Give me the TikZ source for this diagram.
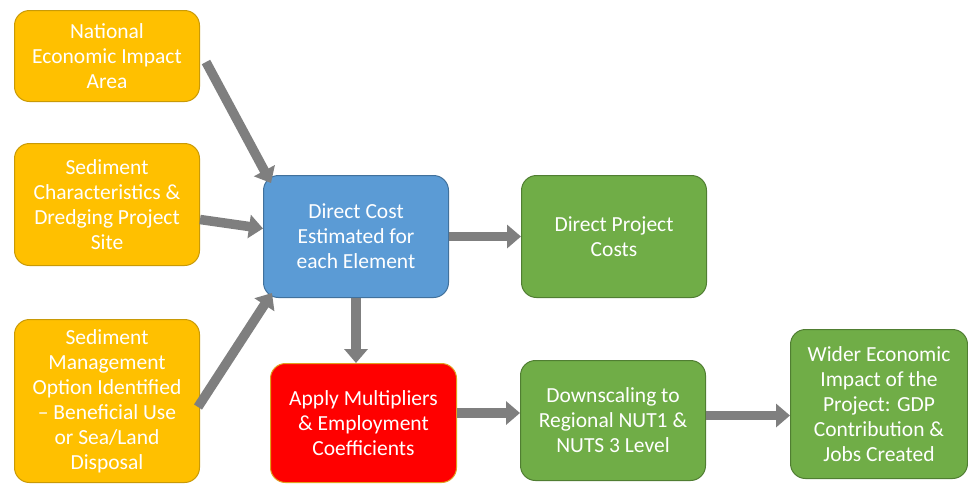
\documentclass[tikz,border=0pt]{standalone}
\usepackage{fontspec}
\setmainfont{Carlito}
\usetikzlibrary{arrows.meta,calc}
\definecolor{orangefill}{HTML}{FFC000}
\definecolor{orangedraw}{HTML}{C99A06}
\definecolor{bluefill}{HTML}{5B9BD5}
\definecolor{bluedraw}{HTML}{41719C}
\definecolor{greenfill}{HTML}{70AD47}
\definecolor{greendraw}{HTML}{507E32}
\definecolor{redfill}{HTML}{FF0000}
\definecolor{reddraw}{HTML}{E0A020}
\definecolor{arrowgray}{HTML}{7F7F7F}
\begin{document}
\begin{tikzpicture}[x=1pt,y=-1pt,
  box/.style={draw,line width=1pt,rounded corners=15pt,anchor=north west,
    text=white,align=center,inner sep=2pt,
    font=\fontsize{21.5}{25}\selectfont},
  obox/.style={box,fill=orangefill,draw=orangedraw},
  bbox/.style={box,fill=bluefill,draw=bluedraw},
  gbox/.style={box,fill=greenfill,draw=greendraw},
  rbox/.style={box,fill=redfill,draw=reddraw},
  arr/.style={draw=arrowgray,line width=9.5pt,
    -{Triangle[length=14pt,width=23pt]},color=arrowgray}]
\useasboundingbox (0,0) rectangle (968,483);
\node[obox,minimum width=185pt,minimum height=91pt] (A) at (14,10)
  {National\\Economic Impact\\Area};
\node[obox,minimum width=185pt,minimum height=122pt] (B) at (14,143)
  {Sediment\\Characteristics \&\\Dredging Project\\Site};
\node[obox,minimum width=185pt,minimum height=163pt] (C) at (14,319)
  {Sediment\\Management\\Option Identified\\– Beneficial Use\\or Sea/Land\\Disposal};
\node[bbox,minimum width=185pt,minimum height=122pt] (D) at (263,175)
  {Direct Cost\\Estimated for\\each Element};
\node[gbox,minimum width=185pt,minimum height=122pt] (E) at (521,175)
  {Direct Project\\Costs};
\node[rbox,minimum width=186pt,minimum height=119pt] (F) at (270,363)
  {Apply Multipliers\\\& Employment\\Coefficients};
\node[gbox,minimum width=185pt,minimum height=120pt] (G) at (520,360)
  {Downscaling to\\Regional NUT1 \&\\NUTS 3 Level};
\node[gbox,minimum width=177pt,minimum height=149pt] (H) at (790,329)
  {Wider Economic\\Impact of the\\Project: GDP\\Contribution \&\\Jobs Created};
\draw[arr] ($(A.east)+(6,6)$) -- ($(D.north west)+(8,8)$);
\draw[arr] ($(B.east)+(0,15)$) -- ($(D.west)+(0,-8)$);
\draw[arr] ($(C.east)+(-2,6)$) -- ($(D.south west)+(9,-5)$);
\draw[arr] (D.east) -- (E.west);
\draw[arr] (D.south) -- ($(F.north)+(-7.5,0)$);
\draw[arr] ($(F.east)+(0,-10)$) -- ($(G.west)+(0,-7.5)$);
\draw[arr] ($(G.east)+(0,-5)$) -- ($(H.west)+(0,11.5)$);
\end{tikzpicture}
\end{document}
